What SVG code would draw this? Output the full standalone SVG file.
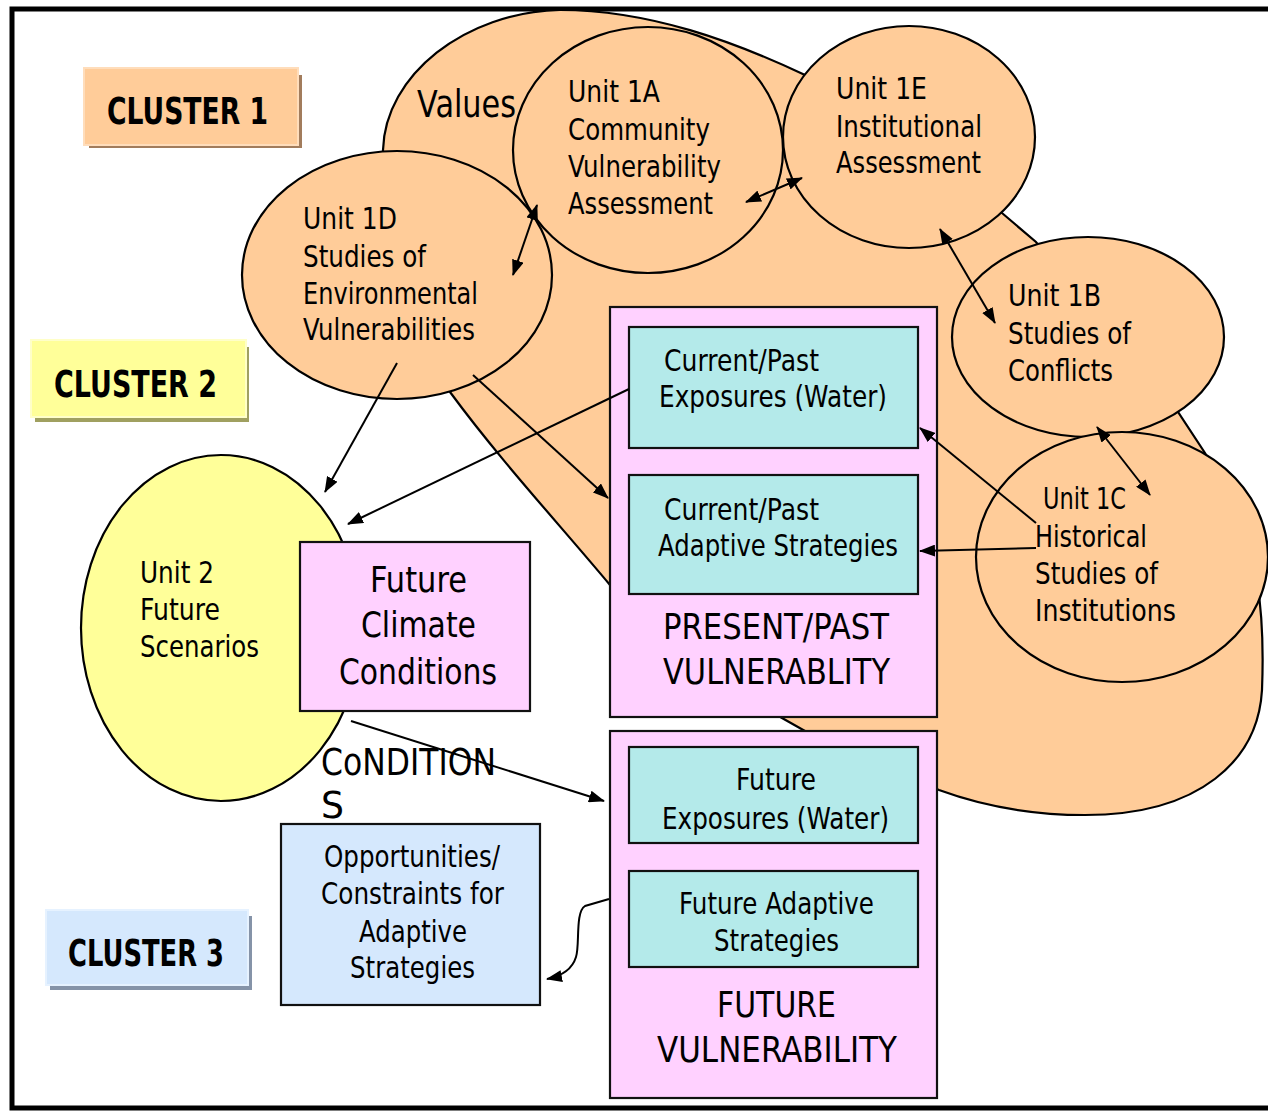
<svg xmlns="http://www.w3.org/2000/svg" width="1268" height="1111" viewBox="0 0 1268 1111">
<style>
text{font-family:"DejaVu Sans","Liberation Sans",sans-serif;fill:#000}
.t30{font-size:30px}
.t35{font-size:35px}
.t37{font-size:37px}
.b{font-weight:bold;font-size:37px}
.blob,.circ{fill:#FFCC99;stroke:#000;stroke-width:2.2}
.yel{fill:#FFFF99;stroke:#000;stroke-width:2.2}
.pink{fill:#FFD1FF;stroke:#111;stroke-width:2.2}
.teal{fill:#B4EAEA;stroke:#111;stroke-width:2.2}
.blue{fill:#D5E8FD;stroke:#111;stroke-width:2.2}
.con{fill:none;stroke:#000;stroke-width:2}
</style>
<defs>
<marker id="ah" viewBox="0 0 16 12" refX="15" refY="6" markerWidth="16" markerHeight="12" markerUnits="userSpaceOnUse" orient="auto-start-reverse">
<path d="M0,0 L16,6 L0,12 Z" fill="#000"/>
</marker>
</defs>
<rect x="0" y="0" width="1268" height="1111" fill="#fff"/>
<rect x="12" y="9" width="1300" height="1099" fill="none" stroke="#000" stroke-width="5"/>

<g id="cluster1">
<rect x="89" y="75" width="213" height="73" fill="#A27C5C"/>
<rect x="84" y="68" width="214" height="77" fill="#FFCC99" stroke="#FFDDBB" stroke-width="2"/>
<text class="b" x="107" y="124" textLength="161" lengthAdjust="spacingAndGlyphs">CLUSTER 1</text>
</g>
<g id="cluster2">
<rect x="35" y="347" width="214" height="75" fill="#A0A060"/>
<rect x="31" y="340" width="215" height="77" fill="#FFFF99" stroke="#FFFFC8" stroke-width="2"/>
<text class="b" x="54" y="397" textLength="163" lengthAdjust="spacingAndGlyphs">CLUSTER 2</text>
</g>
<g id="cluster3">
<rect x="50" y="916" width="202" height="74" fill="#8593A8"/>
<rect x="46" y="910" width="202" height="75" fill="#D5E8FD" stroke="#E6F2FF" stroke-width="2"/>
<text class="b" x="68" y="966" textLength="156" lengthAdjust="spacingAndGlyphs">CLUSTER 3</text>
</g>

<g id="values-blob">
<path class="blob" d="M383,150 C385,75 465,12 560,10 C650,10 735,42 805,75 L1002,213 L1036,242 L1150,380 L1178,412 L1205,453 L1240,520 C1262,570 1264,640 1262,690 C1258,760 1200,815 1085,815 C1030,815 980,805 939,790 L805,731 L782,718 C720,680 655,640 610,585 C560,525 500,460 450,392 C410,330 380,240 383,150 Z"/>
<text class="t37" x="417" y="117" textLength="99" lengthAdjust="spacingAndGlyphs">Values</text>
</g>

<g id="unit1d">
<ellipse class="circ" cx="397" cy="275" rx="155" ry="124"/>
<text class="t30" x="303" y="229" textLength="94" lengthAdjust="spacingAndGlyphs">Unit 1D</text>
<text class="t30" x="303" y="267" textLength="123" lengthAdjust="spacingAndGlyphs">Studies of</text>
<text class="t30" x="303" y="304" textLength="175" lengthAdjust="spacingAndGlyphs">Environmental</text>
<text class="t30" x="303" y="340" textLength="172" lengthAdjust="spacingAndGlyphs">Vulnerabilities</text>
</g>
<g id="unit1a">
<ellipse class="circ" cx="648" cy="150" rx="135" ry="123"/>
<text class="t30" x="568" y="102" textLength="92" lengthAdjust="spacingAndGlyphs">Unit 1A</text>
<text class="t30" x="568" y="140" textLength="142" lengthAdjust="spacingAndGlyphs">Community</text>
<text class="t30" x="568" y="177" textLength="153" lengthAdjust="spacingAndGlyphs">Vulnerability</text>
<text class="t30" x="568" y="214" textLength="145" lengthAdjust="spacingAndGlyphs">Assessment</text>
</g>
<g id="unit1e">
<ellipse class="circ" cx="909" cy="137" rx="126" ry="111"/>
<text class="t30" x="836" y="99" textLength="91" lengthAdjust="spacingAndGlyphs">Unit 1E</text>
<text class="t30" x="836" y="137" textLength="146" lengthAdjust="spacingAndGlyphs">Institutional</text>
<text class="t30" x="836" y="173" textLength="145" lengthAdjust="spacingAndGlyphs">Assessment</text>
</g>
<g id="unit1b">
<ellipse class="circ" cx="1088" cy="337" rx="136" ry="100"/>
<text class="t30" x="1008" y="306" textLength="93" lengthAdjust="spacingAndGlyphs">Unit 1B</text>
<text class="t30" x="1008" y="344" textLength="123" lengthAdjust="spacingAndGlyphs">Studies of</text>
<text class="t30" x="1008" y="381" textLength="105" lengthAdjust="spacingAndGlyphs">Conflicts</text>
</g>
<g id="unit1c">
<ellipse class="circ" cx="1122" cy="557" rx="146" ry="125"/>
<text class="t30" x="1043" y="509" textLength="83" lengthAdjust="spacingAndGlyphs">Unit 1C</text>
<text class="t30" x="1035" y="547" textLength="112" lengthAdjust="spacingAndGlyphs">Historical</text>
<text class="t30" x="1035" y="584" textLength="123" lengthAdjust="spacingAndGlyphs">Studies of</text>
<text class="t30" x="1035" y="621" textLength="141" lengthAdjust="spacingAndGlyphs">Institutions</text>
</g>

<g id="unit2">
<ellipse class="yel" cx="221" cy="628" rx="140" ry="173"/>
<text class="t30" x="140" y="583" textLength="74" lengthAdjust="spacingAndGlyphs">Unit 2</text>
<text class="t30" x="140" y="620" textLength="80" lengthAdjust="spacingAndGlyphs">Future</text>
<text class="t30" x="140" y="657" textLength="119" lengthAdjust="spacingAndGlyphs">Scenarios</text>
</g>
<g id="future-climate">
<rect class="pink" x="300" y="542" width="230" height="169"/>
<text class="t35" x="370" y="592" textLength="97" lengthAdjust="spacingAndGlyphs">Future</text>
<text class="t35" x="361" y="637" textLength="115" lengthAdjust="spacingAndGlyphs">Climate</text>
<text class="t35" x="339" y="684" textLength="158" lengthAdjust="spacingAndGlyphs">Conditions</text>
</g>

<g id="present-past">
<rect class="pink" x="610" y="307" width="327" height="410"/>
<text class="t35" x="663" y="639" textLength="226" lengthAdjust="spacingAndGlyphs">PRESENT/PAST</text>
<text class="t35" x="663" y="684" textLength="227" lengthAdjust="spacingAndGlyphs">VULNERABLITY</text>
</g>
<g id="cp-exposures">
<rect class="teal" x="629" y="327" width="289" height="121"/>
<text class="t30" x="664" y="371" textLength="155" lengthAdjust="spacingAndGlyphs">Current/Past</text>
<text class="t30" x="659" y="407" textLength="228" lengthAdjust="spacingAndGlyphs">Exposures (Water)</text>
</g>
<g id="cp-adaptive">
<rect class="teal" x="629" y="475" width="289" height="119"/>
<text class="t30" x="664" y="520" textLength="155" lengthAdjust="spacingAndGlyphs">Current/Past</text>
<text class="t30" x="658" y="556" textLength="240" lengthAdjust="spacingAndGlyphs">Adaptive Strategies</text>
</g>

<g id="future-vuln">
<rect class="pink" x="610" y="731" width="327" height="367"/>
<text class="t35" x="717" y="1017" textLength="119" lengthAdjust="spacingAndGlyphs">FUTURE</text>
<text class="t35" x="657" y="1062" textLength="240" lengthAdjust="spacingAndGlyphs">VULNERABILITY</text>
</g>
<g id="f-exposures">
<rect class="teal" x="629" y="747" width="289" height="96"/>
<text class="t30" x="736" y="790" textLength="80" lengthAdjust="spacingAndGlyphs">Future</text>
<text class="t30" x="662" y="829" textLength="227" lengthAdjust="spacingAndGlyphs">Exposures (Water)</text>
</g>
<g id="f-adaptive">
<rect class="teal" x="629" y="871" width="289" height="96"/>
<text class="t30" x="679" y="914" textLength="195" lengthAdjust="spacingAndGlyphs">Future Adaptive</text>
<text class="t30" x="714" y="951" textLength="125" lengthAdjust="spacingAndGlyphs">Strategies</text>
</g>

<g id="opportunities">
<rect class="blue" x="281" y="824" width="259" height="181"/>
<text class="t30" x="324" y="867" textLength="176" lengthAdjust="spacingAndGlyphs">Opportunities/</text>
<text class="t30" x="321" y="904" textLength="183" lengthAdjust="spacingAndGlyphs">Constraints for</text>
<text class="t30" x="359" y="942" textLength="108" lengthAdjust="spacingAndGlyphs">Adaptive</text>
<text class="t30" x="350" y="978" textLength="125" lengthAdjust="spacingAndGlyphs">Strategies</text>
</g>

<g id="conditions-label">
<text class="t37" x="321" y="775" textLength="175" lengthAdjust="spacingAndGlyphs">CoNDITION</text>
<text class="t37" x="321" y="818" textLength="23" lengthAdjust="spacingAndGlyphs">S</text>
</g>

<g id="connectors">
<line class="con" x1="537" y1="205" x2="513" y2="275" marker-start="url(#ah)" marker-end="url(#ah)"/>
<line class="con" x1="746" y1="202" x2="802" y2="178" marker-start="url(#ah)" marker-end="url(#ah)"/>
<line class="con" x1="940" y1="229" x2="995" y2="323" marker-start="url(#ah)" marker-end="url(#ah)"/>
<line class="con" x1="1097" y1="427" x2="1150" y2="495" marker-start="url(#ah)" marker-end="url(#ah)"/>
<line class="con" x1="1036" y1="523" x2="920" y2="428" marker-end="url(#ah)"/>
<polyline class="con" points="1036,548 920,551" marker-end="url(#ah)"/>
<line class="con" x1="397" y1="363" x2="325" y2="492" marker-end="url(#ah)"/>
<line class="con" x1="473" y1="375" x2="608" y2="498" marker-end="url(#ah)"/>
<line class="con" x1="629" y1="389" x2="348" y2="524" marker-end="url(#ah)"/>
<line class="con" x1="351" y1="721" x2="604" y2="801" marker-end="url(#ah)"/>
<path class="con" d="M609,899 L585,906 C575,912 580,945 576,957 C572,970 562,976 547,979" marker-end="url(#ah)"/>
</g>
</svg>
